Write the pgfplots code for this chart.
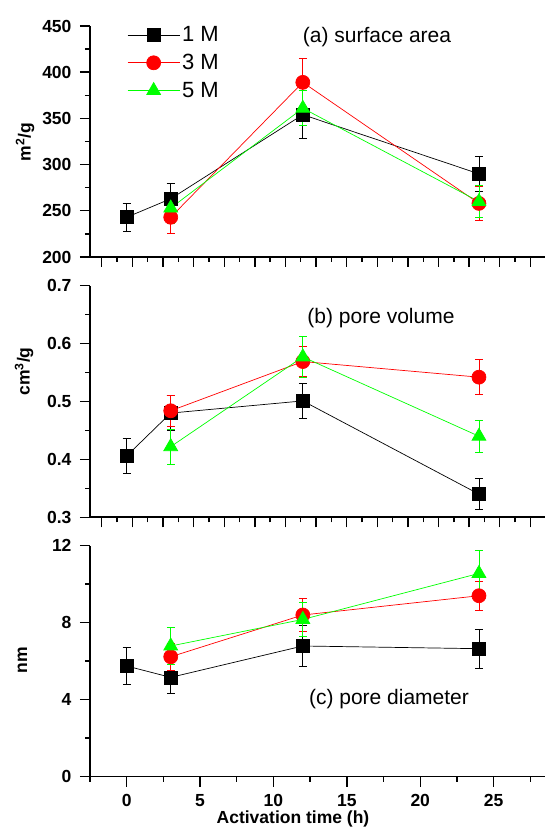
\documentclass[border=0pt]{standalone}
\usepackage{pgfplots}
\pgfplotsset{compat=1.18}
\usepackage{fontspec}
\setmainfont{Liberation Sans}
\definecolor{mygreen}{RGB}{0,255,0}
\definecolor{myred}{RGB}{255,0,0}
\newcommand{\legfont}{\fontsize{22}{24}\selectfont}
\pgfplotsset{
  panel/.style={
    scale only axis, anchor=south west, width=455pt,
    xmin=-2.5, xmax=28.5,
    axis lines*=left,
    axis line style={line width=1.6pt},
    tick style={line width=1.4pt, black},
    tick align=outside,
    major tick length=10pt, minor tick length=5pt,
    tick label style={font=\fontsize{17.5}{20}\selectfont\bfseries},
    yticklabel style={xshift=-5pt},
    xticklabel style={yshift=-4pt},
    /pgf/number format/assume math mode=true,
    minor y tick num=1,
    clip=false,
  },
  s1/.style={black, line width=0.7pt, mark=square*, mark size=6.5pt, mark options={solid, fill=black},
    error bars/.cd, y dir=both, y explicit, error bar style={line width=0.7pt, black}, error mark options={rotate=90, mark size=4pt, line width=0.7pt, black}},
  s3/.style={myred, line width=0.7pt, mark=*, mark size=7pt, mark options={solid, fill=myred},
    error bars/.cd, y dir=both, y explicit, error bar style={line width=0.7pt, myred}, error mark options={rotate=90, mark size=4pt, line width=0.7pt, myred}},
  s5/.style={mygreen, line width=0.7pt, mark=triangle*, mark size=8pt, mark options={solid, fill=mygreen},
    error bars/.cd, y dir=both, y explicit, error bar style={line width=0.7pt, mygreen}, error mark options={rotate=90, mark size=4pt, line width=0.7pt, mygreen}},
}
\begin{document}
\begin{tikzpicture}[x=1pt,y=1pt]
\useasboundingbox (0,0) rectangle (545,829);
% ---------------- panel (a)
\begin{axis}[panel, at={(90pt,572pt)}, height=231pt,
  ymin=200, ymax=450, ytick={200,250,...,450},
  xtick={-1.7,0.386,...,28.5}, minor x tick num=1, xticklabels={},
  legend style={draw=none, fill=none, at={(rel axis cs:0.075,1.015)}, anchor=north west,
    nodes={inner sep=2pt}, row sep=7pt},
  legend cell align=left,
  legend image code/.code={\draw[#1, mark repeat=2, mark phase=2] plot coordinates {(0pt,0pt) (26pt,0pt) (52pt,0pt)};},
]
\addplot[s1] coordinates {(0,243) +- (0,15) (3,263) +- (0,17) (12,354) +- (0,26) (24,290) +- (0,19)};
\addlegendentry{\legfont 1 M}
\addplot[s3] coordinates {(3,243) +- (0,17) (12,389) +- (0,26) (24,258) +- (0,18)};
\addlegendentry{\legfont 3 M}
\addplot[s5] coordinates {(3,253) +- (0,17) (12,361) +- (0,19) (24,260) +- (0,17)};
\addlegendentry{\legfont 5 M}
\end{axis}
% ---------------- panel (b)
\begin{axis}[panel, at={(90pt,311.7pt)}, height=231.6pt,
  ymin=0.3, ymax=0.7, ytick={0.3,0.4,...,0.7},
  yticklabel style={/pgf/number format/fixed, /pgf/number format/fixed zerofill, /pgf/number format/precision=1},
  xtick={-1.7,0.386,...,28.5}, minor x tick num=1, xticklabels={},
]
\addplot[s1] coordinates {(0,0.406) +- (0,0.03) (3,0.480) +- (0,0.03) (12,0.501) +- (0,0.03) (24,0.340) +- (0,0.027)};
\addplot[s3] coordinates {(3,0.484) +- (0,0.027) (12,0.569) +- (0,0.026) (24,0.542) +- (0,0.03)};
\addplot[s5] coordinates {(3,0.422) +- (0,0.03) (12,0.577) +- (0,0.035) (24,0.440) +- (0,0.028)};
\end{axis}
% ---------------- panel (c)
\begin{axis}[panel, at={(90pt,52.3pt)}, height=231pt,
  ymin=0, ymax=12, ytick={0,4,8,12},
  xtick={0,5,...,25}, minor xtick={-2.5,2.5,7.5,...,27.5},
]
\addplot[s1] coordinates {(0,5.75) +- (0,0.97) (3,5.16) +- (0,0.85) (12,6.79) +- (0,1.05) (24,6.65) +- (0,1.0)};
\addplot[s3] coordinates {(3,6.23) +- (0,0.7) (12,8.40) +- (0,0.86) (24,9.40) +- (0,0.74)};
\addplot[s5] coordinates {(3,6.79) +- (0,0.95) (12,8.17) +- (0,0.9) (24,10.56) +- (0,1.2)};
\end{axis}
% ---------------- labels
\node[font=\fontsize{21}{24}\selectfont] at (377,792) {(a) surface area};
\node[font=\fontsize{21}{24}\selectfont] at (381,511) {(b) pore volume};
\node[font=\fontsize{21}{24}\selectfont] at (389,130) {(c) pore diameter};
\node[rotate=90, font=\fontsize{17.5}{20}\selectfont\bfseries] at (25,687) {m\textsuperscript{2}/g};
\node[rotate=90, font=\fontsize{17.5}{20}\selectfont\bfseries] at (24,457.5) {cm\textsuperscript{3}/g};
\node[rotate=90, font=\fontsize{17.5}{20}\selectfont\bfseries] at (22.5,169) {nm};
\node[font=\fontsize{17.5}{20}\selectfont\bfseries] at (293,10) {Activation time (h)};
\end{tikzpicture}
\end{document}
